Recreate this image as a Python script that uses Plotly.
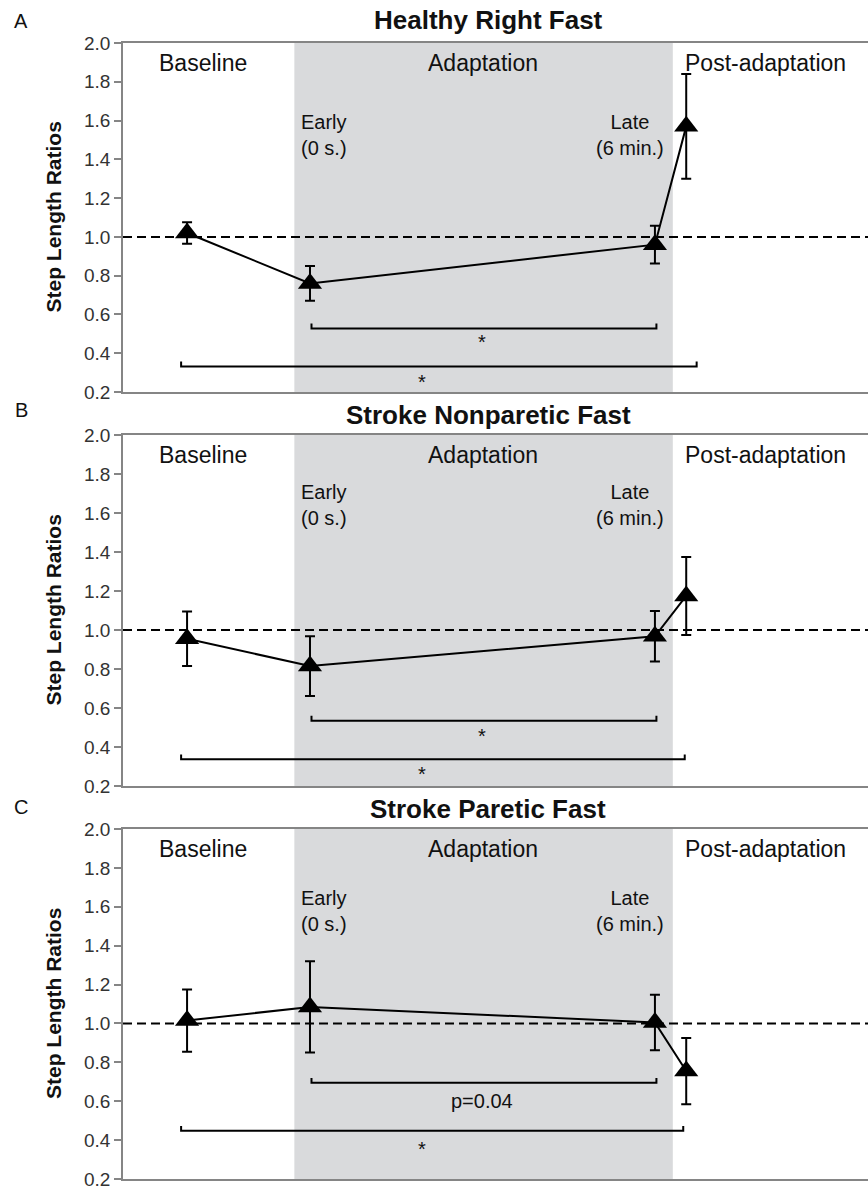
import plotly.graph_objects as go

# Phase positions on a 0-10 horizontal scale
phases = ["Baseline", "Early", "Late", "Post"]
phase_x = [0.86, 2.51, 7.14, 7.56]
adapt_start, adapt_end = 2.30, 7.38

titles = ["Healthy Right Fast", "Stroke Nonparetic Fast", "Stroke Paretic Fast"]
letters = ["A", "B", "C"]

# Step length ratios (mean) and error (SD) per phase
means = [
    [1.02, 0.76, 0.96, 1.57],
    [0.955, 0.815, 0.968, 1.175],
    [1.015, 1.085, 1.005, 0.755],
]
errors = [
    [0.055, 0.09, 0.097, 0.27],
    [0.14, 0.153, 0.13, 0.20],
    [0.16, 0.235, 0.143, 0.17],
]

# Significance brackets: inner (Early vs Late), outer (Baseline vs Post)
inner_y = [0.528, 0.535, 0.695]
inner_x = [2.53, 7.16]
inner_label = ["*", "*", "p=0.04"]
inner_label_y = [0.478, 0.477, 0.600]
outer_y = [0.332, 0.337, 0.448]
outer_x_left = 0.78
outer_x_right = [7.70, 7.54, 7.52]
outer_label = ["*", "*", "*"]
outer_label_y = [0.272, 0.282, 0.374]
tick_h = 0.025

# Early / Late label heights per panel
phase_label_y = [1.527, 1.64, 1.578]

FIG_W, FIG_H = 868, 1188
plot_left = 123
panel_px = [(43, 392), (435, 786), (829, 1179)]

FONT = "Liberation Sans, Arial, sans-serif"
fig = go.Figure()


def label(x, y, text, size, xref, yref, xanchor="center", **kw):
    fig.add_annotation(x=x, y=y, xref=xref, yref=yref, text=text,
                       showarrow=False, xanchor=xanchor, yanchor="middle",
                       font=dict(family=FONT, size=size, color="#111111"), **kw)


for i in range(3):
    top, bot = panel_px[i]
    n = "" if i == 0 else str(i + 1)
    xa, ya = "x" + n, "y" + n
    dom_y = [1 - bot / FIG_H, 1 - top / FIG_H]

    fig.update_layout(**{
        "xaxis" + n: dict(domain=[plot_left / FIG_W, 1], range=[0, 10],
                          showticklabels=False, ticks="", showgrid=False,
                          zeroline=False, showline=True, mirror=True,
                          linecolor="#858585", linewidth=1.5, anchor=ya,
                          automargin=False),
        "yaxis" + n: dict(domain=dom_y, range=[0.2, 2.0], dtick=0.2,
                          tick0=0.2, tickformat=".1f", ticks="outside",
                          ticklen=7, tickwidth=1.5, tickcolor="#858585",
                          showgrid=False, zeroline=False, showline=True,
                          linecolor="#858585", linewidth=1.5,
                          tickfont=dict(family=FONT, size=19, color="#333333"),
                          ticklabeloverflow="allow",
                          anchor=xa, automargin=False),
    })

    # Adaptation period shading
    fig.add_shape(type="rect", xref=xa, yref=ya, x0=adapt_start, x1=adapt_end,
                  y0=0.2, y1=2.0, fillcolor="#d9dadc", line_width=0, layer="below")
    # Reference line at ratio 1.0
    fig.add_shape(type="line", xref=xa, yref=ya, x0=0, x1=10, y0=1.0, y1=1.0,
                  line=dict(color="black", width=2, dash="9px,5px"))

    # Brackets
    fig.add_trace(go.Scatter(
        x=[inner_x[0], inner_x[0], inner_x[1], inner_x[1]],
        y=[inner_y[i] + tick_h, inner_y[i], inner_y[i], inner_y[i] + tick_h],
        mode="lines", line=dict(color="black", width=2),
        xaxis=xa, yaxis=ya, showlegend=False, hoverinfo="skip"))
    fig.add_trace(go.Scatter(
        x=[outer_x_left, outer_x_left, outer_x_right[i], outer_x_right[i]],
        y=[outer_y[i] + tick_h, outer_y[i], outer_y[i], outer_y[i] + tick_h],
        mode="lines", line=dict(color="black", width=2),
        xaxis=xa, yaxis=ya, showlegend=False, hoverinfo="skip"))

    # Data series
    fig.add_trace(go.Scatter(
        x=phase_x, y=means[i], mode="lines+markers",
        line=dict(color="black", width=2),
        marker=dict(symbol="triangle-up", size=21, color="black"),
        error_y=dict(type="data", array=errors[i], visible=True,
                     color="black", thickness=2, width=5),
        xaxis=xa, yaxis=ya, showlegend=False, name=titles[i]))

    # Phase labels
    label(1.07, 1.895, "Baseline", 23, xa, ya)
    label(4.83, 1.895, "Adaptation", 23, xa, ya)
    label(7.52, 1.895, "Post-adaptation", 23, xa, ya, xanchor="left")
    label(2.70, phase_label_y[i], "Early<br>(0 s.)", 20, xa, ya)
    label(6.81, phase_label_y[i], "Late<br>(6 min.)", 20, xa, ya)

    # Bracket labels
    label(4.82, inner_label_y[i], inner_label[i], 20, xa, ya,
          yshift=-4 if inner_label[i] == "*" else 0)
    label(4.02, outer_label_y[i], outer_label[i], 20, xa, ya, yshift=-4)

    # Panel title, letter and y-axis title
    title_y = [20, 415, 809][i]
    letter_y = [21, 410, 807][i]
    label(488 / FIG_W, 1 - title_y / FIG_H, "<b>" + titles[i] + "</b>", 26,
          "paper", "paper")
    label(21 / FIG_W, 1 - letter_y / FIG_H, letters[i], 20, "paper", "paper")
    label(53 / FIG_W, 1 - (top + bot) / 2 / FIG_H, "<b>Step Length Ratios</b>", 21,
          "paper", "paper", textangle=-90)

fig.update_layout(width=FIG_W, height=FIG_H,
                  margin=dict(l=0, r=0, t=0, b=0, autoexpand=False),
                  plot_bgcolor="white", paper_bgcolor="white", showlegend=False)

fig.write_html("out.html")
